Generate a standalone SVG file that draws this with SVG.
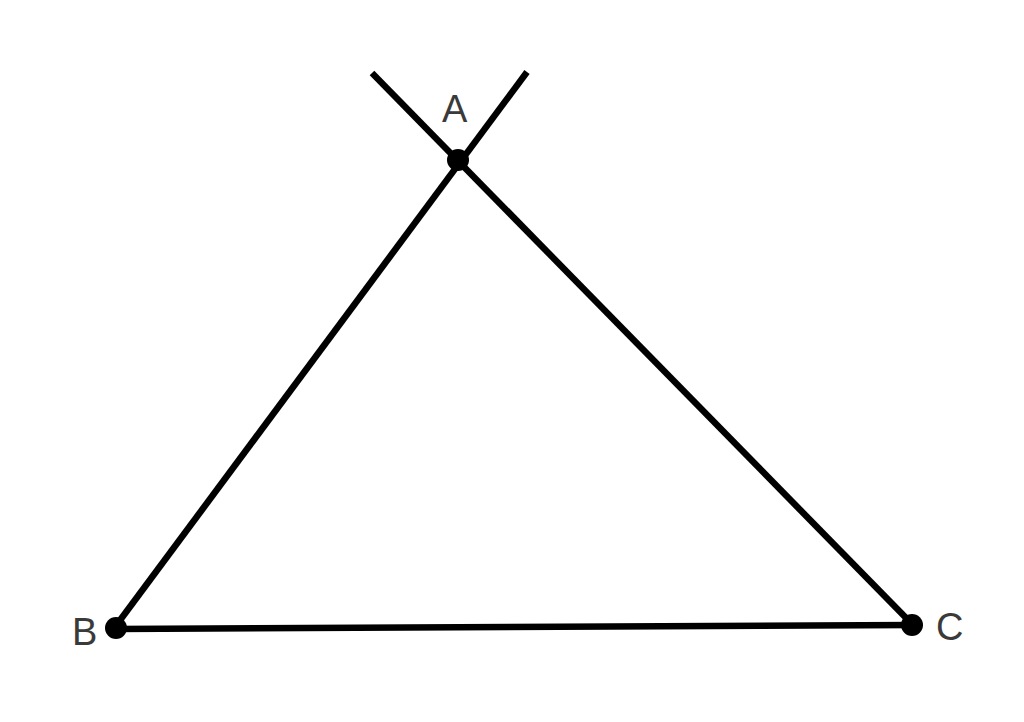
<svg xmlns="http://www.w3.org/2000/svg" width="1024" height="722" viewBox="0 0 1024 722">
<style>
.ln{stroke:#000;stroke-width:6.5;stroke-linecap:butt;fill:none}
.pt{fill:#000}
.lb{font-family:"Liberation Sans",Arial,sans-serif;font-size:38px;fill:#3a3a3a}
</style>
<rect width="1024" height="722" fill="#fff"/>
<g id="connectors">
<line class="ln" x1="115" y1="627" x2="527" y2="72"/>
<line class="ln" x1="913" y1="625" x2="372" y2="73"/>
<line class="ln" x1="115" y1="629" x2="913" y2="625"/>
</g>
<g id="A"><circle class="pt" cx="458" cy="160" r="11"/><text class="lb" x="442" y="122">A</text></g>
<g id="B"><circle class="pt" cx="116" cy="628" r="11"/><text class="lb" x="72" y="645">B</text></g>
<g id="C"><circle class="pt" cx="912" cy="625" r="11"/><text class="lb" x="936" y="640">C</text></g>
</svg>
